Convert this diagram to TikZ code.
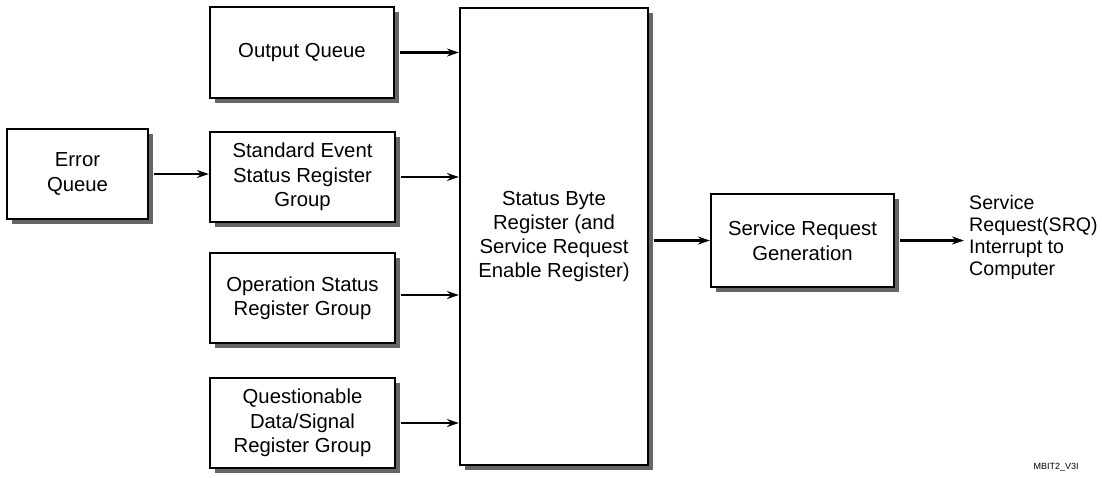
\documentclass[tikz,border=0pt]{standalone}
\usepackage{fontspec}
\setmainfont{Liberation Sans}
\usetikzlibrary{arrows.meta,shadows}
\begin{document}
\begin{tikzpicture}[x=1pt,y=-1pt,
  box/.style={draw=black, line width=2.2pt, fill=white, rectangle, inner sep=0pt, align=center,
    font=\fontsize{20.3}{24.5}\selectfont,
    drop shadow={shadow xshift=5pt, shadow yshift=-5pt, fill=black!60, opacity=1}},
  conn/.style={line width=2.4pt, -{Stealth[length=12pt,width=8pt]}},
  lbl/.style={align=left, inner sep=0pt, font=\fontsize{19.6}{22}\selectfont}]
\useasboundingbox (0,0) rectangle (1102,477);
\node[box, minimum width=141pt, minimum height=90pt] (eq) at (77.5,174) {Error\\Queue};
\node[box, minimum width=184pt, minimum height=91pt] (oq) at (302,52.5) {Output Queue};
\node[box, minimum width=185pt, minimum height=90pt] (se) at (302.5,177) {Standard Event\\Status Register\\Group};
\node[box, minimum width=185pt, minimum height=90pt] (os) at (302.5,298) {Operation Status\\Register Group};
\node[box, minimum width=185pt, minimum height=90pt] (qd) at (302.5,423) {Questionable\\Data/Signal\\Register Group};
\node[box, minimum width=188pt, minimum height=457pt, font=\fontsize{20.3}{24}\selectfont] (sb) at (554,236.5) {Status Byte\\Register (and\\Service Request\\Enable Register)};
\node[box, minimum width=183pt, minimum height=93pt] (sr) at (802.5,240.5) {Service Request\\Generation};
\node[lbl, anchor=west] (out) at (969,237) {Service\\Request(SRQ)\\Interrupt to\\Computer};
\node[inner sep=0pt, font=\fontsize{9}{10}\selectfont] (tag) at (1056,467) {MBIT2\_V3I};
\coordinate (srqin) at (964,240.5);
\draw[conn] ([xshift=5pt]eq.east) -- (eq.east -| se.west);
\draw[conn] ([xshift=5pt]oq.east) -- (oq.east -| sb.west);
\draw[conn] ([xshift=5pt]se.east) -- (se.east -| sb.west);
\draw[conn] ([xshift=5pt,yshift=3pt]os.east) -- ([yshift=3pt]os.east -| sb.west);
\draw[conn] ([xshift=5pt]qd.east) -- (qd.east -| sb.west);
\draw[conn] ([xshift=5pt]sb.east |- sr.west) -- (sr.west);
\draw[conn] ([xshift=5pt]sr.east) -- (srqin);
\end{tikzpicture}
\end{document}
